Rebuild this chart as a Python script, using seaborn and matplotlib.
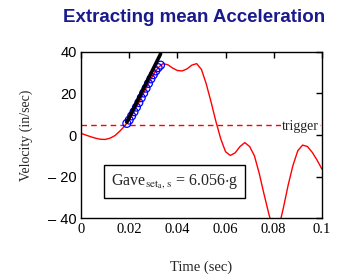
import numpy as np
import pandas as pd
import seaborn as sns
import matplotlib
matplotlib.use('Agg')
import matplotlib.pyplot as plt

# velocity trace (time in sec, velocity in in/sec)
time_s = [0.000, 0.002, 0.004, 0.006, 0.008, 0.010, 0.012, 0.014, 0.016, 0.018,
          0.020, 0.022, 0.024, 0.026, 0.028, 0.030, 0.032, 0.034, 0.036, 0.038,
          0.040, 0.042, 0.044, 0.046, 0.048, 0.050, 0.052, 0.054, 0.056, 0.058,
          0.060, 0.062, 0.064, 0.066, 0.068, 0.070, 0.072, 0.074, 0.076, 0.078,
          0.080, 0.082, 0.084, 0.086, 0.088, 0.090, 0.092, 0.094, 0.096, 0.098,
          0.100]
velocity = [0.8, 0.0, -0.8, -1.5, -2.0, -2.1, -1.5, -0.3, 1.8, 4.2,
            7.2, 11.2, 15.6, 20.2, 24.8, 29.0, 32.4, 34.3, 33.8, 32.2,
            31.0, 30.8, 31.8, 33.6, 34.3, 31.5, 24.5, 15.8, 6.5, -1.8,
            -8.0, -9.8, -8.5, -5.5, -3.6, -5.5, -10.0, -18.5, -28.5, -38.0,
            -46.0, -45.0, -35.0, -24.0, -14.5, -7.5, -4.8, -5.5, -8.3, -12.0,
            -16.3]

# samples used for the fit (blue circles)
fit_t = [0.019, 0.020, 0.021, 0.022, 0.023, 0.024, 0.025, 0.026,
         0.027, 0.028, 0.029, 0.030, 0.031, 0.032, 0.033]
fit_v = [5.6, 7.2, 9.2, 11.2, 13.4, 15.6, 17.9, 20.2,
         22.5, 24.8, 27.0, 29.0, 30.8, 32.4, 33.6]

# fitted line
accel_g = 6.056
g_in = 386.09
line_t = [0.019, 0.0330]
line_v0 = 6.2
trigger = 5

df = pd.DataFrame({'t': time_s, 'v': velocity})
df_fit = pd.DataFrame({'t': fit_t, 'v': fit_v})
df_line = pd.DataFrame({'t': line_t})
df_line['v'] = line_v0 + accel_g * g_in * (df_line['t'] - line_t[0])

sns.set_style('white')
plt.rcParams['font.family'] = ['Liberation Serif', 'DejaVu Serif']
plt.rcParams['mathtext.fontset'] = 'stix'

fig = plt.figure(figsize=(3.45, 2.74), dpi=100)
ax = fig.add_axes([0.235, 0.203, 0.698, 0.608])

ax.axhline(trigger, color='red', lw=1, ls=(0, (4, 3)), zorder=1)
sns.lineplot(data=df, x='t', y='v', color='red', lw=1, ax=ax, zorder=2)
ax.scatter(df_fit['t'], df_fit['v'], s=32, facecolors='none',
           edgecolors='blue', linewidths=0.9, zorder=3)
sns.lineplot(data=df_line, x='t', y='v', color='black', lw=2.6, ax=ax, zorder=4)

ax.text(0.0835, 4.3, 'trigger', fontsize=10, va='center', ha='left',
        bbox=dict(facecolor='white', edgecolor='none', pad=0.5), zorder=5)

ax.text(0.0125, -22.3, r'Gave$_{\mathrm{set}_{\mathrm{a}},\mathrm{s}}$ = 6.056$\cdot$g',
        fontsize=11.5, va='center', ha='left',
        bbox=dict(boxstyle='square,pad=0.42', facecolor='white',
                  edgecolor='black', lw=1), zorder=5)

ax.set_xlim(0, 0.1)
ax.set_ylim(-40, 40)
ax.set_xticks([0, 0.02, 0.04, 0.06, 0.08, 0.1])
ax.set_xticklabels(['0', '0.02', '0.04', '0.06', '0.08', '0.1'], fontsize=10.5)
ax.set_yticks([-40, -20, 0, 20, 40])
ax.set_yticklabels(['\u2013 40', '\u2013 20', '0', '20', '40'], fontsize=10.5,
                   family='Liberation Sans')
ax.tick_params(direction='in', length=4, width=1, top=True, right=True,
               colors='black', pad=3)
for sp in ax.spines.values():
    sp.set_color('black')
    sp.set_linewidth(1)

ax.set_xlabel('Time (sec)', fontsize=10.5, labelpad=18)
ax.set_ylabel('Velocity (in/sec)', fontsize=10, labelpad=11)

fig.text(0.563, 0.937, 'Extracting mean Acceleration', fontsize=13.5,
         fontweight='bold', color='#1a1a8c', ha='center', va='center',
         family='Liberation Sans')

fig.savefig('out.png', dpi=100)
